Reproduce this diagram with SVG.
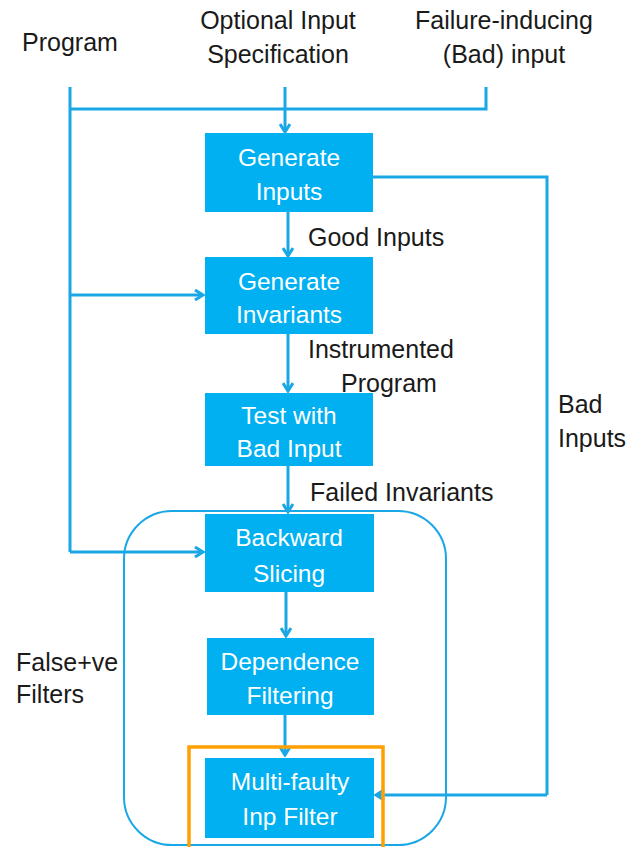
<svg xmlns="http://www.w3.org/2000/svg" width="636" height="847" viewBox="0 0 636 847">
<defs>
<marker id="arr" viewBox="0 0 12 12" refX="10" refY="6" markerWidth="12" markerHeight="12" markerUnits="userSpaceOnUse" orient="auto">
<path d="M2,1 L10,6 L2,11" fill="none" stroke="#1aa7e6" stroke-width="3" stroke-linejoin="miter"/>
</marker>
</defs>
<style>
.box{fill:#00b0f0;}
.bt{font-family:"Liberation Sans",Arial,sans-serif;font-size:24.5px;fill:#ffffff;text-anchor:middle;}
.lbl{font-family:"Liberation Sans",Arial,sans-serif;font-size:25px;fill:#1a1a1a;}
.ln{fill:none;stroke:#1aa7e6;stroke-width:3;}
.ar{fill:none;stroke:#1aa7e6;stroke-width:3;marker-end:url(#arr);}
</style>
<rect width="636" height="847" fill="#ffffff"/>
<g id="labels">
<text class="lbl" x="22" y="51">Program</text>
<text class="lbl" x="278" y="29" text-anchor="middle">Optional Input</text>
<text class="lbl" x="278" y="63" text-anchor="middle">Specification</text>
<text class="lbl" x="504" y="29" text-anchor="middle">Failure-inducing</text>
<text class="lbl" x="504" y="63" text-anchor="middle">(Bad) input</text>
<text class="lbl" x="308" y="246">Good Inputs</text>
<text class="lbl" x="308" y="358">Instrumented</text>
<text class="lbl" x="341" y="392">Program</text>
<text class="lbl" x="310" y="501">Failed Invariants</text>
<text class="lbl" x="558" y="413">Bad</text>
<text class="lbl" x="558" y="447">Inputs</text>
<text class="lbl" x="16" y="671">False+ve</text>
<text class="lbl" x="16" y="703">Filters</text>
</g>
<g id="container">
<rect x="124" y="511" width="322" height="334" rx="48" ry="48" fill="none" stroke="#1aa7e6" stroke-width="2"/>
</g>
<g id="connectors">
<path class="ln" d="M70,87 V552"/>
<path class="ln" d="M70,109 H486 V87"/>
<path class="ar" d="M285,87 V132"/>
<path class="ln" d="M372,177 H547 V795"/>
<path class="ar" d="M547,795 H376"/>
<path class="ar" d="M288,212 V256"/>
<path class="ar" d="M70,295 H203"/>
<path class="ar" d="M288,334 V391"/>
<path class="ar" d="M288,466 V512"/>
<path class="ar" d="M70,552 H203"/>
<path class="ar" d="M286,592 V636"/>
<path class="ar" d="M285,715 V755"/>
</g>
<g id="n1"><rect class="box" x="205" y="133" width="168" height="79"/><text class="bt" x="289" y="166">Generate</text><text class="bt" x="289" y="200">Inputs</text></g>
<g id="n2"><rect class="box" x="205" y="257" width="168" height="77"/><text class="bt" x="289" y="290">Generate</text><text class="bt" x="289" y="323">Invariants</text></g>
<g id="n3"><rect class="box" x="205" y="393" width="168" height="73"/><text class="bt" x="289" y="424">Test with</text><text class="bt" x="289" y="457">Bad Input</text></g>
<g id="n4"><rect class="box" x="205" y="514" width="169" height="78"/><text class="bt" x="289" y="546">Backward</text><text class="bt" x="289" y="582">Slicing</text></g>
<g id="n5"><rect class="box" x="207" y="638" width="167" height="77"/><text class="bt" x="290" y="670">Dependence</text><text class="bt" x="290" y="704">Filtering</text></g>
<g id="n6"><rect class="box" x="205" y="758" width="169" height="80"/><text class="bt" x="290" y="790">Multi-faulty</text><text class="bt" x="290" y="825">Inp Filter</text></g>
<g id="highlight"><rect x="189" y="747" width="194" height="104" fill="none" stroke="#ffa000" stroke-width="3.5"/></g>
</svg>
